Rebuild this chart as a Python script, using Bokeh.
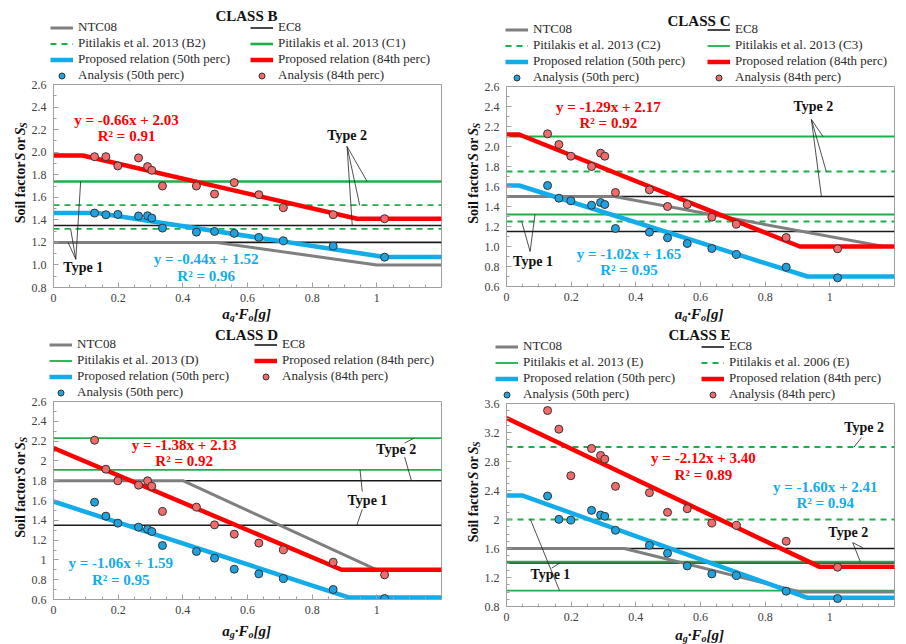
import math
from bokeh.plotting import figure
from bokeh.models import (Legend, LegendItem, Label, Range1d, SingleIntervalTicker,
                          NumeralTickFormatter)
from bokeh.layouts import column, row
from bokeh.embed import file_html
from bokeh.resources import INLINE

FONT = "Liberation Serif"

# ---------------- data ----------------
X_RANGE = [0.0, 1.2]
AG_FO = [0.127, 0.162, 0.199, 0.263, 0.291, 0.304, 0.337, 0.442, 0.498, 0.559, 0.635, 0.711, 0.865, 1.024]

# CLASS B
B_AN50 = [1.46, 1.445, 1.448, 1.434, 1.436, 1.416, 1.327, 1.291, 1.297, 1.28, 1.244, 1.214, 1.167, 1.069]
B_AN84 = [1.96, 1.96, 1.878, 1.949, 1.872, 1.839, 1.70, 1.70, 1.629, 1.73, 1.623, 1.508, 1.446, 1.41]
B_REL50_X = [0, 0.136, 1.023, 1.2]
B_REL50_Y = [1.46, 1.46, 1.07, 1.07]
B_REL84_X = [0, 0.09, 0.939, 1.2]
B_REL84_Y = [1.97, 1.97, 1.41, 1.41]
B_NTC_X = [0, 0.5, 1.0, 1.2]
B_NTC_Y = [1.2, 1.2, 1.0, 1.0]
B_EC8 = [1.2, 1.35]
B_PIT_DASH = [1.32, 1.53]    # Pitilakis 2013 (B2)
B_PIT_SOLID = [1.74]         # Pitilakis 2013 (C1)

# CLASS C
C_AN50 = [1.61, 1.483, 1.457, 1.413, 1.44, 1.42, 1.18, 1.143, 1.087, 1.03, 0.98, 0.92, 0.793, 0.687]
C_AN84 = [2.127, 2.02, 1.903, 1.80, 1.933, 1.903, 1.54, 1.567, 1.40, 1.42, 1.293, 1.223, 1.09, 0.977]
C_REL50_X = [0, 0.039, 0.931, 1.2]
C_REL50_Y = [1.61, 1.61, 0.70, 0.70]
C_REL84_X = [0, 0.039, 0.907, 1.2]
C_REL84_Y = [2.12, 2.12, 1.0, 1.0]
C_NTC_X = [0, 0.333, 1.167, 1.2]
C_NTC_Y = [1.5, 1.5, 1.0, 1.0]
C_EC8 = [1.15, 1.5]
C_PIT_DASH = [1.25, 1.75]    # Pitilakis 2013 (C2)
C_PIT_SOLID = [1.32, 2.10]   # Pitilakis 2013 (C3)

# CLASS D
D_AN50 = [1.583, 1.442, 1.371, 1.331, 1.31, 1.287, 1.145, 1.085, 1.018, 0.906, 0.859, 0.812, 0.701, 0.61]
D_AN84 = [2.209, 1.916, 1.799, 1.755, 1.799, 1.745, 1.489, 1.533, 1.354, 1.26, 1.17, 1.102, 0.977, 0.849]
D_REL50_X = [0, 0.915, 1.2]
D_REL50_Y = [1.59, 0.62, 0.62]
D_REL84_X = [0, 0.891, 1.2]
D_REL84_Y = [2.13, 0.90, 0.90]
D_NTC_X = [0, 0.4, 1.0, 1.2]
D_NTC_Y = [1.8, 1.8, 0.9, 0.9]
D_EC8 = [1.35, 1.8]
D_PIT_SOLID = [1.91, 2.23]   # Pitilakis 2013 (D)

# CLASS E
E_AN50 = [2.324, 2.002, 1.993, 2.126, 2.062, 2.044, 1.851, 1.644, 1.534, 1.36, 1.25, 1.227, 1.011, 0.91]
E_AN84 = [3.503, 3.246, 2.604, 2.98, 2.884, 2.833, 2.457, 2.37, 2.099, 2.149, 1.952, 1.92, 1.70, 1.342]
E_REL50_X = [0, 0.05, 0.931, 1.2]
E_REL50_Y = [2.33, 2.33, 0.92, 0.92]
E_REL84_X = [0, 0.967, 1.2]
E_REL84_Y = [3.40, 1.35, 1.35]
E_NTC_X = [0, 0.364, 0.909, 1.2]
E_NTC_Y = [1.6, 1.6, 1.0, 1.0]
E_EC8 = [1.4, 1.6]
E_PIT_SOLID = [1.02, 1.42]   # Pitilakis 2013 (E)
E_PIT_DASH = [2.0, 3.0]      # Pitilakis 2006 (E)

# ---------------- styles ----------------
GRAY = "#7f7f7f"
BLACK = "#1a1a1a"
GREEN = "#1db04a"
BLUE = "#12acea"
RED = "#ff0000"
BLUE_PT = "#1ea3e0"
RED_PT = "#f26a6a"
AXIS_C = "#a0a0a0"
PANEL_W = 453
PANEL_H = 322
YLAB_W = 28
XAX_H = 20      # height kept for x tick labels inside the plot figure
OVL = 6         # the plot row overlaps the header by this much (room for the top tick label)
HX0 = 10        # header x origin (keeps the legend's source data outside its frame)

# Times-metric widths (per 1000 em) for composed axis labels
W_BOLD = {" ": 250, "S": 556, "o": 500, "i": 278, "l": 278, "f": 333, "a": 500, "c": 444, "t": 333, "r": 444}
W_BI = {" ": 250, "S": 556, "a": 500, "g": 500, "\u00b7": 250, "F": 667, "o": 500, "[": 333, "]": 333}


def tw(s, table, fs):
    return sum(table.get(ch, 500) for ch in s) * fs / 1000.0


def line_kw(kind, cfg):
    if kind == "ntc":
        return dict(line_color=GRAY, line_width=3)
    if kind == "ec8":
        return dict(line_color=BLACK, line_width=1.6)
    if kind == "dash":
        return dict(line_color=GREEN, line_width=1.8, line_dash="6 5")
    if kind == "solid":
        return dict(line_color=GREEN, line_width=cfg.get("solid_w", 1.8))
    if kind == "r50":
        return dict(line_color=BLUE, line_width=4.5)
    if kind == "r84":
        return dict(line_color=RED, line_width=4.5)
    return None


def pt_kw(kind):
    fill = BLUE_PT if kind == "a50" else RED_PT
    return dict(size=8, fill_color=fill, line_color="#333333", line_width=1)


def bare(width, height, xr, yr):
    f = figure(width=width, height=height, x_range=Range1d(*xr), y_range=Range1d(*yr),
               output_backend="svg", toolbar_location=None, title=None,
               x_axis_location=None, y_axis_location=None, min_border=0)
    f.grid.visible = False
    f.outline_line_color = None
    return f


def series_renderer(f, k, cfg):
    if k in ("a50", "a84"):
        return f.scatter(AG_FO, cfg[k], **pt_kw(k))
    if k in ("ntc", "r50", "r84"):
        return f.line(cfg[k][0], cfg[k][1], **line_kw(k, cfg))
    return f.line(X_RANGE, [cfg[k][0], cfg[k][0]], **line_kw(k, cfg))


def make_header(cfg):
    Th = cfg["mb"][2] - 1
    L = cfg["mb"][0]
    h = bare(PANEL_W, Th, (HX0, HX0 + PANEL_W), (0, Th))
    cx = L + (PANEL_W - L - cfg["mb"][1]) / 2
    h.add_layout(Label(x=HX0 + cx, y=Th - cfg["title_y"], text=cfg["title"], text_align="center",
                       text_baseline="middle", text_font=FONT, text_font_size="15px",
                       text_font_style="bold", text_color="#111111"))
    items = []
    for lab, k in cfg["legend"]:
        items.append(LegendItem(label=lab, renderers=[series_renderer(h, k, cfg)]))
    leg = Legend(items=items, orientation="horizontal", ncols=2, location=(cfg["leg_x"], 0),
                 glyph_width=23, glyph_height=15, label_height=15,
                 label_width=cfg.get("lw", 172),
                 label_standoff=5, spacing=0, padding=0, margin=0,
                 border_line_color=None, background_fill_alpha=0,
                 label_text_font=FONT, label_text_font_size="13px", label_text_color="#2a2a2a",
                 label_text_line_height=1.0)
    h.add_layout(leg, "center")
    return h


def make_plot(cfg, Hp):
    L, R, T, Bt = cfg["mb"]
    p = figure(width=PANEL_W - YLAB_W, height=Hp + OVL, x_range=Range1d(*X_RANGE), y_range=Range1d(*cfg["yr"]),
               output_backend="svg", toolbar_location=None, title=None,
               min_border_left=L - YLAB_W, min_border_right=R,
               min_border_top=1 + OVL, min_border_bottom=XAX_H)
    p.grid.visible = False
    p.outline_line_color = AXIS_C
    p.border_fill_alpha = 0

    p.xaxis.ticker = SingleIntervalTicker(interval=0.2, num_minor_ticks=4)
    p.yaxis.ticker = SingleIntervalTicker(interval=cfg["yint"], num_minor_ticks=cfg["ymin"])
    p.xaxis.formatter = NumeralTickFormatter(format="0.[0]")
    p.yaxis.formatter = NumeralTickFormatter(format=cfg["yfmt"])
    for ax in (p.xaxis, p.yaxis):
        ax.axis_line_color = AXIS_C
        ax.major_tick_line_color = AXIS_C
        ax.minor_tick_line_color = AXIS_C
        ax.major_tick_in = 5
        ax.major_tick_out = 0
        ax.minor_tick_in = 3
        ax.minor_tick_out = 0
        ax.major_label_text_font = FONT
        ax.major_label_text_font_size = "12px"
        ax.major_label_text_color = "#404040"
    p.xaxis.major_label_standoff = 6
    p.yaxis.major_label_standoff = 7

    for v in cfg["ec8"]:
        p.line(X_RANGE, [v, v], **line_kw("ec8", cfg))
    for v in cfg.get("dash_all", []):
        p.line(X_RANGE, [v, v], **line_kw("dash", cfg))
    for v in cfg.get("solid_all", []):
        p.line(X_RANGE, [v, v], **line_kw("solid", cfg))
    p.line(cfg["ntc"][0], cfg["ntc"][1], **line_kw("ntc", cfg))
    p.line(cfg["r50"][0], cfg["r50"][1], **line_kw("r50", cfg))
    p.line(cfg["r84"][0], cfg["r84"][1], **line_kw("r84", cfg))

    for (x0, y0, x1, y1) in cfg["callouts"]:
        p.segment(x0=[x0], y0=[y0], x1=[x1], y1=[y1], line_color="#222222", line_width=0.8)

    p.scatter(AG_FO, cfg["a50"], **pt_kw("a50"))
    p.scatter(AG_FO, cfg["a84"], **pt_kw("a84"))

    for (txt, x, y, col) in cfg["texts"]:
        p.add_layout(Label(x=x, y=y, text=txt, text_align="center", text_baseline="middle",
                           text_font=FONT, text_font_size="15px", text_font_style="bold",
                           text_color=col))
    for (txt, x, y) in cfg["types"]:
        p.add_layout(Label(x=x, y=y, text=txt, text_align="center", text_baseline="middle",
                           text_font=FONT, text_font_size="14px", text_font_style="bold",
                           text_color="#111111"))
    return p


def make_ylab(cfg, Hp):
    f = bare(YLAB_W, Hp + OVL, (0, YLAB_W), (0, Hp + OVL))
    f.border_fill_alpha = 0
    f.background_fill_alpha = 0
    fs, sfs = 14, 10
    # (text, size, style, metrics, baseline shift, extra gap after)
    pieces = [("Soil factor ", fs, "bold", W_BOLD, 0, 6), ("S", fs, "bold italic", W_BI, 0, 0),
              (" or ", fs, "bold", W_BOLD, 0, 0.5), ("S", fs, "bold italic", W_BI, 0, 0.5),
              ("S", sfs, "bold italic", W_BI, 3, 0)]
    total = sum(tw(s, t, f_) + g for s, f_, _, t, _, g in pieces)
    yc = (XAX_H + Hp - 1) / 2 + 8
    cur = yc - total / 2
    for s, f_, st, t, dx, g in pieces:
        lead = len(s) - len(s.lstrip(" "))
        f.add_layout(Label(x=20 + dx, y=cur + tw(" " * lead, t, f_), text=s.strip(), angle=math.pi / 2,
                           text_align="left", text_baseline="alphabetic", text_font=FONT,
                           text_font_size=f"{f_}px", text_font_style=st, text_color="#111111"))
        cur += tw(s, t, f_) + g
    return f


def make_xlab(cfg, Hx):
    L = cfg["mb"][0]
    f = bare(PANEL_W, Hx, (0, PANEL_W), (0, Hx))
    fs, sfs = 15, 10
    pieces = [("a", fs, 0), ("g", sfs, -4), ("\u00b7F", fs, 0), ("o", sfs, -4), ("[g]", fs, 0)]
    total = sum(tw(s, W_BI, f_) for s, f_, _ in pieces)
    cx = L + (PANEL_W - L - cfg["mb"][1]) / 2
    cur = cx - total / 2
    mid = Hx - (cfg["xl_mid"] - XAX_H)
    for s, f_, dy in pieces:
        f.add_layout(Label(x=cur, y=mid + dy, text=s, text_align="left", text_baseline="middle",
                           text_font=FONT, text_font_size=f"{f_}px", text_font_style="bold italic",
                           text_color="#111111"))
        cur += tw(s, W_BI, f_)
    return f


def panel(cfg):
    L, R, T, Bt = cfg["mb"]
    Th = T - 1
    Hx = Bt - XAX_H
    Hp = PANEL_H - Th - Hx
    return column(make_header(cfg),
                  row(make_ylab(cfg, Hp), make_plot(cfg, Hp), spacing=0, margin=(-OVL, 0, 0, 0)),
                  make_xlab(cfg, Hx), spacing=0)


cfgB = dict(title="CLASS B", title_y=15, leg_x=50, yr=[0.8, 2.6], yint=0.2, ymin=2, yfmt="0.0",
            mb=[51, 12, 84, 35], xl_mid=26, solid_w=2.6, lw=172,
            ec8=B_EC8, dash_all=B_PIT_DASH, solid_all=B_PIT_SOLID, dash=B_PIT_DASH, solid=B_PIT_SOLID,
            ntc=(B_NTC_X, B_NTC_Y), r50=(B_REL50_X, B_REL50_Y), r84=(B_REL84_X, B_REL84_Y),
            a50=B_AN50, a84=B_AN84,
            legend=[("NTC08", "ntc"), ("EC8", "ec8"), ("Pitilakis et al. 2013 (B2)", "dash"),
                    ("Pitilakis et al. 2013 (C1)", "solid"), ("Proposed relation (50th perc)", "r50"),
                    ("Proposed relation (84th perc)", "r84"), ("Analysis (50th perc)", "a50"),
                    ("Analysis (84th perc)", "a84")],
            texts=[("y = -0.66x + 2.03", 0.226, 2.289, RED), ("R\u00b2 = 0.91", 0.226, 2.141, RED),
                   ("y = -0.44x + 1.52", 0.472, 1.049, BLUE), ("R\u00b2 = 0.96", 0.472, 0.901, BLUE)],
            types=[("Type 2", 0.908, 2.15), ("Type 1", 0.092, 0.978)],
            callouts=[(0.908, 2.05, 0.970, 1.74), (0.908, 2.05, 0.947, 1.53), (0.908, 2.05, 0.924, 1.35),
                      (0.069, 1.05, 0.084, 1.74), (0.069, 1.05, 0.053, 1.32), (0.069, 1.05, 0.045, 1.20)])

cfgC = dict(title="CLASS C", title_y=20, leg_x=52, yr=[0.6, 2.6], yint=0.2, ymin=2, yfmt="0.0",
            mb=[50, 12, 86, 36], xl_mid=27, solid_w=1.8, lw=174,
            ec8=C_EC8, dash_all=C_PIT_DASH, solid_all=C_PIT_SOLID, dash=C_PIT_DASH, solid=C_PIT_SOLID,
            ntc=(C_NTC_X, C_NTC_Y), r50=(C_REL50_X, C_REL50_Y), r84=(C_REL84_X, C_REL84_Y),
            a50=C_AN50, a84=C_AN84,
            legend=[("NTC08", "ntc"), ("EC8", "ec8"), ("Pitilakis et al. 2013 (C2)", "dash"),
                    ("Pitilakis et al. 2013 (C3)", "solid"), ("Proposed relation (50th perc)", "r50"),
                    ("Proposed relation (84th perc)", "r84"), ("Analysis (50th perc)", "a50"),
                    ("Analysis (84th perc)", "a84")],
            texts=[("y = -1.29x + 2.17", 0.315, 2.40, RED), ("R\u00b2 = 0.92", 0.315, 2.233, RED),
                   ("y = -1.02x + 1.65", 0.379, 0.927, BLUE), ("R\u00b2 = 0.95", 0.379, 0.767, BLUE)],
            types=[("Type 2", 0.949, 2.40), ("Type 1", 0.082, 0.853)],
            callouts=[(0.943, 2.27, 0.979, 2.10), (0.943, 2.27, 0.989, 1.75), (0.943, 2.27, 0.974, 1.50),
                      (0.073, 0.95, 0.088, 1.32), (0.073, 0.95, 0.047, 1.25)])

cfgD = dict(title="CLASS D", title_y=12, leg_x=49, yr=[0.6, 2.6], yint=0.2, ymin=2, yfmt="0.[0]",
            mb=[51, 12, 79, 45], xl_mid=31, solid_w=1.8, lw=177,
            ec8=D_EC8, solid_all=D_PIT_SOLID, solid=D_PIT_SOLID,
            ntc=(D_NTC_X, D_NTC_Y), r50=(D_REL50_X, D_REL50_Y), r84=(D_REL84_X, D_REL84_Y),
            a50=D_AN50, a84=D_AN84,
            legend=[("NTC08", "ntc"), ("EC8", "ec8"), ("Pitilakis et al. 2013 (D)", "solid"),
                    ("Proposed relation (84th perc)", "r84"), ("Proposed relation (50th perc)", "r50"),
                    ("Analysis (84th perc)", "a84"), ("Analysis (50th perc)", "a50")],
            texts=[("y = -1.38x + 2.13", 0.404, 2.162, RED), ("R\u00b2 = 0.92", 0.404, 2.004, RED),
                   ("y = -1.06x + 1.59", 0.208, 0.97, BLUE), ("R\u00b2 = 0.95", 0.208, 0.802, BLUE)],
            types=[("Type 2", 1.06, 2.112), ("Type 1", 0.971, 1.603)],
            callouts=[(1.086, 2.18, 1.115, 2.23), (1.086, 2.04, 1.107, 1.80),
                      (0.955, 1.69, 0.948, 1.91), (0.955, 1.51, 0.938, 1.35)])

cfgE = dict(title="CLASS E", title_y=12, leg_x=42, yr=[0.8, 3.6], yint=0.4, ymin=4, yfmt="0.[0]",
            mb=[51, 12, 81, 38], xl_mid=28, solid_w=1.8, lw=178,
            ec8=E_EC8, dash_all=E_PIT_DASH, solid_all=E_PIT_SOLID, dash=E_PIT_DASH, solid=E_PIT_SOLID,
            ntc=(E_NTC_X, E_NTC_Y), r50=(E_REL50_X, E_REL50_Y), r84=(E_REL84_X, E_REL84_Y),
            a50=E_AN50, a84=E_AN84,
            legend=[("NTC08", "ntc"), ("EC8", "ec8"), ("Pitilakis et al. 2013 (E)", "solid"),
                    ("Pitilakis et al. 2006 (E)", "dash"), ("Proposed relation (50th perc)", "r50"),
                    ("Proposed relation (84th perc)", "r84"), ("Analysis (50th perc)", "a50"),
                    ("Analysis (84th perc)", "a84")],
            texts=[("y = -2.12x + 3.40", 0.609, 2.842, RED), ("R\u00b2 = 0.89", 0.609, 2.613, RED),
                   ("y = -1.60x + 2.41", 0.986, 2.452, BLUE), ("R\u00b2 = 0.94", 0.986, 2.223, BLUE)],
            types=[("Type 2", 1.106, 3.264), ("Type 2", 1.057, 1.823), ("Type 1", 0.136, 1.241)],
            callouts=[(1.098, 3.13, 1.075, 3.0), (1.071, 1.68, 1.102, 1.61), (1.071, 1.68, 1.094, 1.42),
                      (0.074, 2.0, 0.164, 1.02), (0.14, 1.33, 0.165, 1.40)])

layout = column(row(panel(cfgB), panel(cfgC), spacing=0),
                row(panel(cfgD), panel(cfgE), spacing=0), spacing=0)
open("out.html", "w").write(file_html(layout, INLINE))
